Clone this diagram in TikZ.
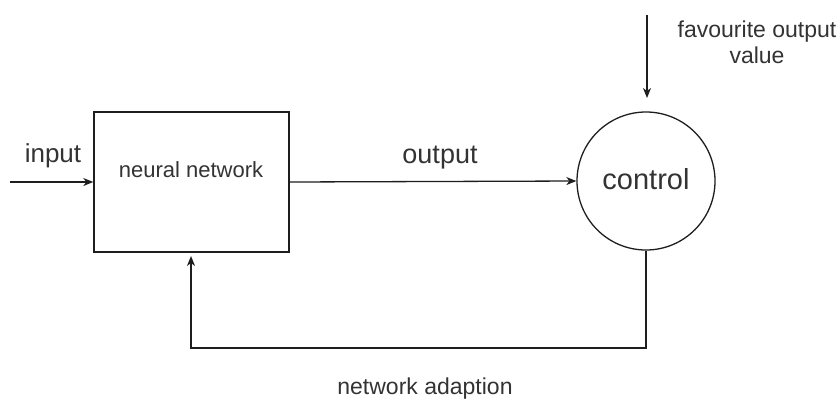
\documentclass[tikz,border=0pt]{standalone}
\usepackage{fontspec}
\setmainfont{Liberation Sans}
\usetikzlibrary{arrows.meta}
\definecolor{txt}{HTML}{333333}
\definecolor{ln}{HTML}{1E1E1E}
\tikzset{
  wire/.style={draw=ln, line width=1.3pt},
  flow/.style={wire, -{Stealth[length=10pt,width=8pt,inset=3pt]}},
  lbl/.style={inner sep=0pt, text=txt, anchor=base},
  block/.style={draw=ln, line width=1.4pt, minimum width=195pt, minimum height=140pt, inner sep=0pt},
  ctrl/.style={draw=ln, line width=1.3pt, circle, minimum size=138pt, inner sep=0pt}
}
\begin{document}
\begin{tikzpicture}[x=1pt, y=-1pt]
  \useasboundingbox[fill=white] (0,0) rectangle (840,400);

  % blocks
  \node[block] (nn) at (191.5,182) {};
  \node[ctrl] (ct) at (646,181) {};

  % texts
  \node[lbl, font=\fontsize{22}{26}\selectfont] (nnt) at (191,177) {neural network};
  \node[lbl, font=\fontsize{29}{34}\selectfont] (ctt) at (646,189) {control};
  \node[lbl, font=\fontsize{26}{30}\selectfont] (inl) at (53,162) {input};
  \node[lbl, font=\fontsize{27}{32}\selectfont] (outl) at (440,163) {output};
  \node[lbl, font=\fontsize{23}{27}\selectfont] (fav1) at (757,37) {favourite output};
  \node[lbl, font=\fontsize{23}{27}\selectfont] (fav2) at (757,63) {value};
  \node[lbl, font=\fontsize{23}{27}\selectfont] (adl) at (425,394) {network adaption};

  % connector end points
  \coordinate (inS) at (10,182);
  \coordinate (favS) at (647,15);
  \coordinate (favE) at (647,98);
  \coordinate (fbA) at (646,348);
  \coordinate (fbB) at (191,348);
  \coordinate (fbE) at (191,256);

  % connectors
  \draw[flow] (inS) -- (nn.west |- inS);
  \draw[flow] (nn.east |- 0,182) -- (ct.west);
  \draw[flow] (favS) -- (favE);
  \draw[flow] (ct.south) -- (fbA) -- (fbB) -- (fbE);
\end{tikzpicture}
\end{document}
